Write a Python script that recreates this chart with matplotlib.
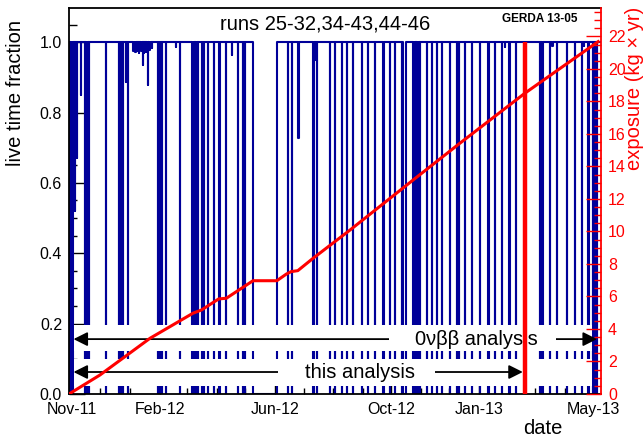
import numpy as np
import matplotlib.pyplot as plt
import matplotlib.dates as mdates
from matplotlib.ticker import FixedLocator, MultipleLocator, FormatStrFormatter
from matplotlib.patches import Rectangle
import datetime as dt

plt.rcParams['font.family'] = ['Liberation Sans', 'DejaVu Sans']

t_start = dt.datetime(2011, 10, 29)
n_days = 558.0

# month ticks on the date axis
tick_dates = [dt.datetime(2011, 11, 1), dt.datetime(2012, 2, 1), dt.datetime(2012, 6, 1),
              dt.datetime(2012, 10, 1), dt.datetime(2013, 1, 1), dt.datetime(2013, 5, 1)]

# days (since axis start) where the live time drops to zero, and how long it stays there
gap_day = [0.0, 1.2, 2.4, 3.5, 16.5, 17.9, 19.3, 20.8, 38.8, 52.4, 54.5, 56.6, 61.6,
           93.3, 95.4, 97.2, 101.7, 116.4, 129.0, 130.5, 132.0, 133.5, 135.0, 139.2,
           141.6, 145.8, 152.1, 157.6, 164.3, 177.2, 182.2, 184.6, 193.0, 229.4, 233.9,
           255.9, 259.6, 273.7, 279.0, 286.0, 291.6, 297.9, 307.0, 313.6, 320.9, 329.6,
           336.7, 341.9, 348.9, 350.6, 360.8, 362.2, 363.6, 365.0, 366.4, 367.8, 375.2,
           380.4, 385.6, 390.9, 399.6, 406.6, 409.0, 415.3, 422.3, 431.1, 439.8, 446.8,
           453.8, 461.8, 468.8, 493.9, 496.6, 504.4, 511.5, 522.0, 530.7, 537.7, 544.6,
           549.4, 551.5, 553.6]
gap_len = [0.3, 0.3, 0.3, 0.4, 0.6, 0.6, 0.6, 0.6, 0.3, 0.3, 0.3, 0.3, 0.3,
           0.3, 0.3, 0.3, 0.3, 0.3, 0.6, 0.6, 0.6, 0.6, 0.6, 0.3,
           0.3, 0.3, 0.3, 0.3, 0.3, 0.3, 0.3, 0.3, 24.8, 0.3, 0.3,
           0.6, 0.6, 0.3, 0.3, 0.3, 0.3, 0.3, 0.3, 0.3, 0.3, 0.3,
           0.3, 0.3, 0.3, 2.5, 0.6, 0.6, 0.6, 0.6, 0.6, 0.6, 0.3,
           0.3, 0.3, 0.3, 0.3, 0.3, 0.3, 0.3, 0.3, 0.3, 0.3, 0.3,
           0.3, 0.3, 0.3, 0.5, 0.5, 0.3, 0.3, 0.3, 0.3, 0.3, 0.3,
           0.6, 0.6, 0.6]

# partial losses of live time
dip_day = [6.3, 8.4, 12.3, 59.5, 67.5, 68.6, 69.7, 70.9, 72.1, 73.2, 74.4, 76.0, 77.3,
           78.6, 79.8, 81.0, 82.2, 82.9, 84.2, 85.4, 86.6, 112.2, 171.0, 240.5, 257.9,
           457.0, 507.0, 540.2]
dip_frac = [0.52, 0.67, 0.85, 0.887, 0.975, 0.98, 0.972, 0.985, 0.976, 0.97, 0.982, 0.975,
            0.935, 0.968, 0.98, 0.972, 0.985, 0.878, 0.978, 0.99, 0.983, 0.985, 0.963, 0.727,
            0.95, 0.985, 0.99, 0.99]

# accumulated exposure in kg*yr
exp_day = [0, 32.5, 85, 130, 139, 157, 165, 193, 218, 228, 233, 240, 256, 295, 361, 410, 478, 555]
exposure = [0, 1.17, 3.43, 4.97, 5.17, 5.85, 5.89, 6.97, 6.97, 7.38, 7.53, 7.59, 8.35, 10.1,
            13.17, 15.43, 18.5, 21.68]

analysis_end = 478.0

# build the live time trace
events = [(d, 0.0, w) for d, w in zip(gap_day, gap_len)] + \
         [(d, v, 0.25) for d, v in zip(dip_day, dip_frac)]
events.sort()
tx, ty = [0.0], [1.0]
for d, v, w in events:
    tx += [d, d, d + w, d + w]
    ty += [1.0, v, v, 1.0]
tx.append(n_days)
ty.append(1.0)

t0 = mdates.date2num(t_start)
tx = t0 + np.array(tx)

fig = plt.figure(figsize=(6.43, 4.38), dpi=100)
ax = fig.add_axes([69/643, 44/438, 532/643, 386/438])

ax.plot(tx, ty, color='#000099', lw=1.5, zorder=2)

# white bands behind the analysis ranges
ax.axhspan(0.122, 0.196, 0.0085, 0.983, color='white', lw=0, zorder=3)
ax.axhspan(0.023, 0.099, 0.0085, 0.983, color='white', lw=0, zorder=3)

arrow = dict(arrowstyle='<|-|>', color='black', lw=1.3, mutation_scale=21,
             shrinkA=0, shrinkB=0)
ax.annotate('', xy=(t0 + 4.7, 0.156), xytext=(t0 + 553.8, 0.156), arrowprops=arrow, zorder=4)
ax.annotate('', xy=(t0 + 4.7, 0.0625), xytext=(t0 + 476.0, 0.0625), arrowprops=arrow, zorder=4)
ax.add_patch(Rectangle((t0 + 335.6, 0.13), 175.2, 0.055, fc='white', ec='none', zorder=4.5))
ax.add_patch(Rectangle((t0 + 219.2, 0.035), 164.7, 0.055, fc='white', ec='none', zorder=4.5))
ax.text(t0 + 426.9, 0.156, '0\u03bd\u03b2\u03b2 analysis', ha='center', va='center',
        fontsize=14.5, zorder=5)
ax.text(t0 + 305.6, 0.0625, 'this analysis', ha='center', va='center',
        fontsize=14.5, zorder=5)

ax.plot([t0 + analysis_end] * 2, [0, 1.0], color='red', lw=3.2, zorder=6,
        solid_capstyle='butt')

ax.set_xlim(t0, t0 + n_days)
ax.set_ylim(0, 1.097)
ax.xaxis.set_major_locator(FixedLocator(mdates.date2num(tick_dates)))
ax.xaxis.set_minor_locator(mdates.MonthLocator())
ax.xaxis.set_major_formatter(mdates.DateFormatter('%b-%y'))
ax.yaxis.set_major_locator(FixedLocator([0, 0.2, 0.4, 0.6, 0.8, 1.0]))
ax.yaxis.set_minor_locator(MultipleLocator(0.05))
ax.yaxis.set_major_formatter(FormatStrFormatter('%.1f'))
ax.tick_params(axis='x', which='major', direction='in', length=8.3, width=1,
               pad=6, labelsize=11.5)
ax.tick_params(axis='x', which='minor', direction='in', length=4.2, width=1)
ax.tick_params(axis='y', which='major', direction='in', length=11.5, width=1,
               pad=5, labelsize=11.5)
ax.tick_params(axis='y', which='minor', direction='in', length=5.8, width=1)
ax.spines['right'].set_visible(False)
for s in ['left', 'top', 'bottom']:
    ax.spines[s].set_linewidth(1.3)

ax2 = ax.twinx()
ax2.plot(t0 + np.array(exp_day), exposure, color='red', lw=2.2)
ax2.set_ylim(0, 23.75)
ax2.yaxis.set_major_locator(MultipleLocator(2))
ax2.yaxis.set_minor_locator(MultipleLocator(0.5))
ax2.tick_params(axis='y', which='major', direction='in', length=11, width=1,
                color='red', labelcolor='red', pad=5, labelsize=11.5)
ax2.tick_params(axis='y', which='minor', direction='in', length=5, width=1, color='red')
for s in ['left', 'top', 'bottom']:
    ax2.spines[s].set_visible(False)
ax2.spines['right'].set_color('red')
ax2.spines['right'].set_linewidth(1.3)

fig.text(16/643, 1 - 20/438, 'live time fraction', rotation=90, ha='center', va='top',
         fontsize=14.5)
fig.text(543/643, 1 - 428/438, 'date', ha='center', va='center', fontsize=14.5)
fig.text(634/643, 1 - 7/438, 'exposure (kg \u00d7 yr)', rotation=90, ha='center', va='top',
         fontsize=14.5, color='red')
fig.text(325/643, 1 - 24/438, 'runs 25-32,34-43,44-46', ha='center', va='center',
         fontsize=14.5)
fig.text(540/643, 1 - 19/438, 'GERDA 13-05', ha='center', va='center',
         fontsize=8.5, fontweight='bold')

fig.savefig('out.png', dpi=100)
